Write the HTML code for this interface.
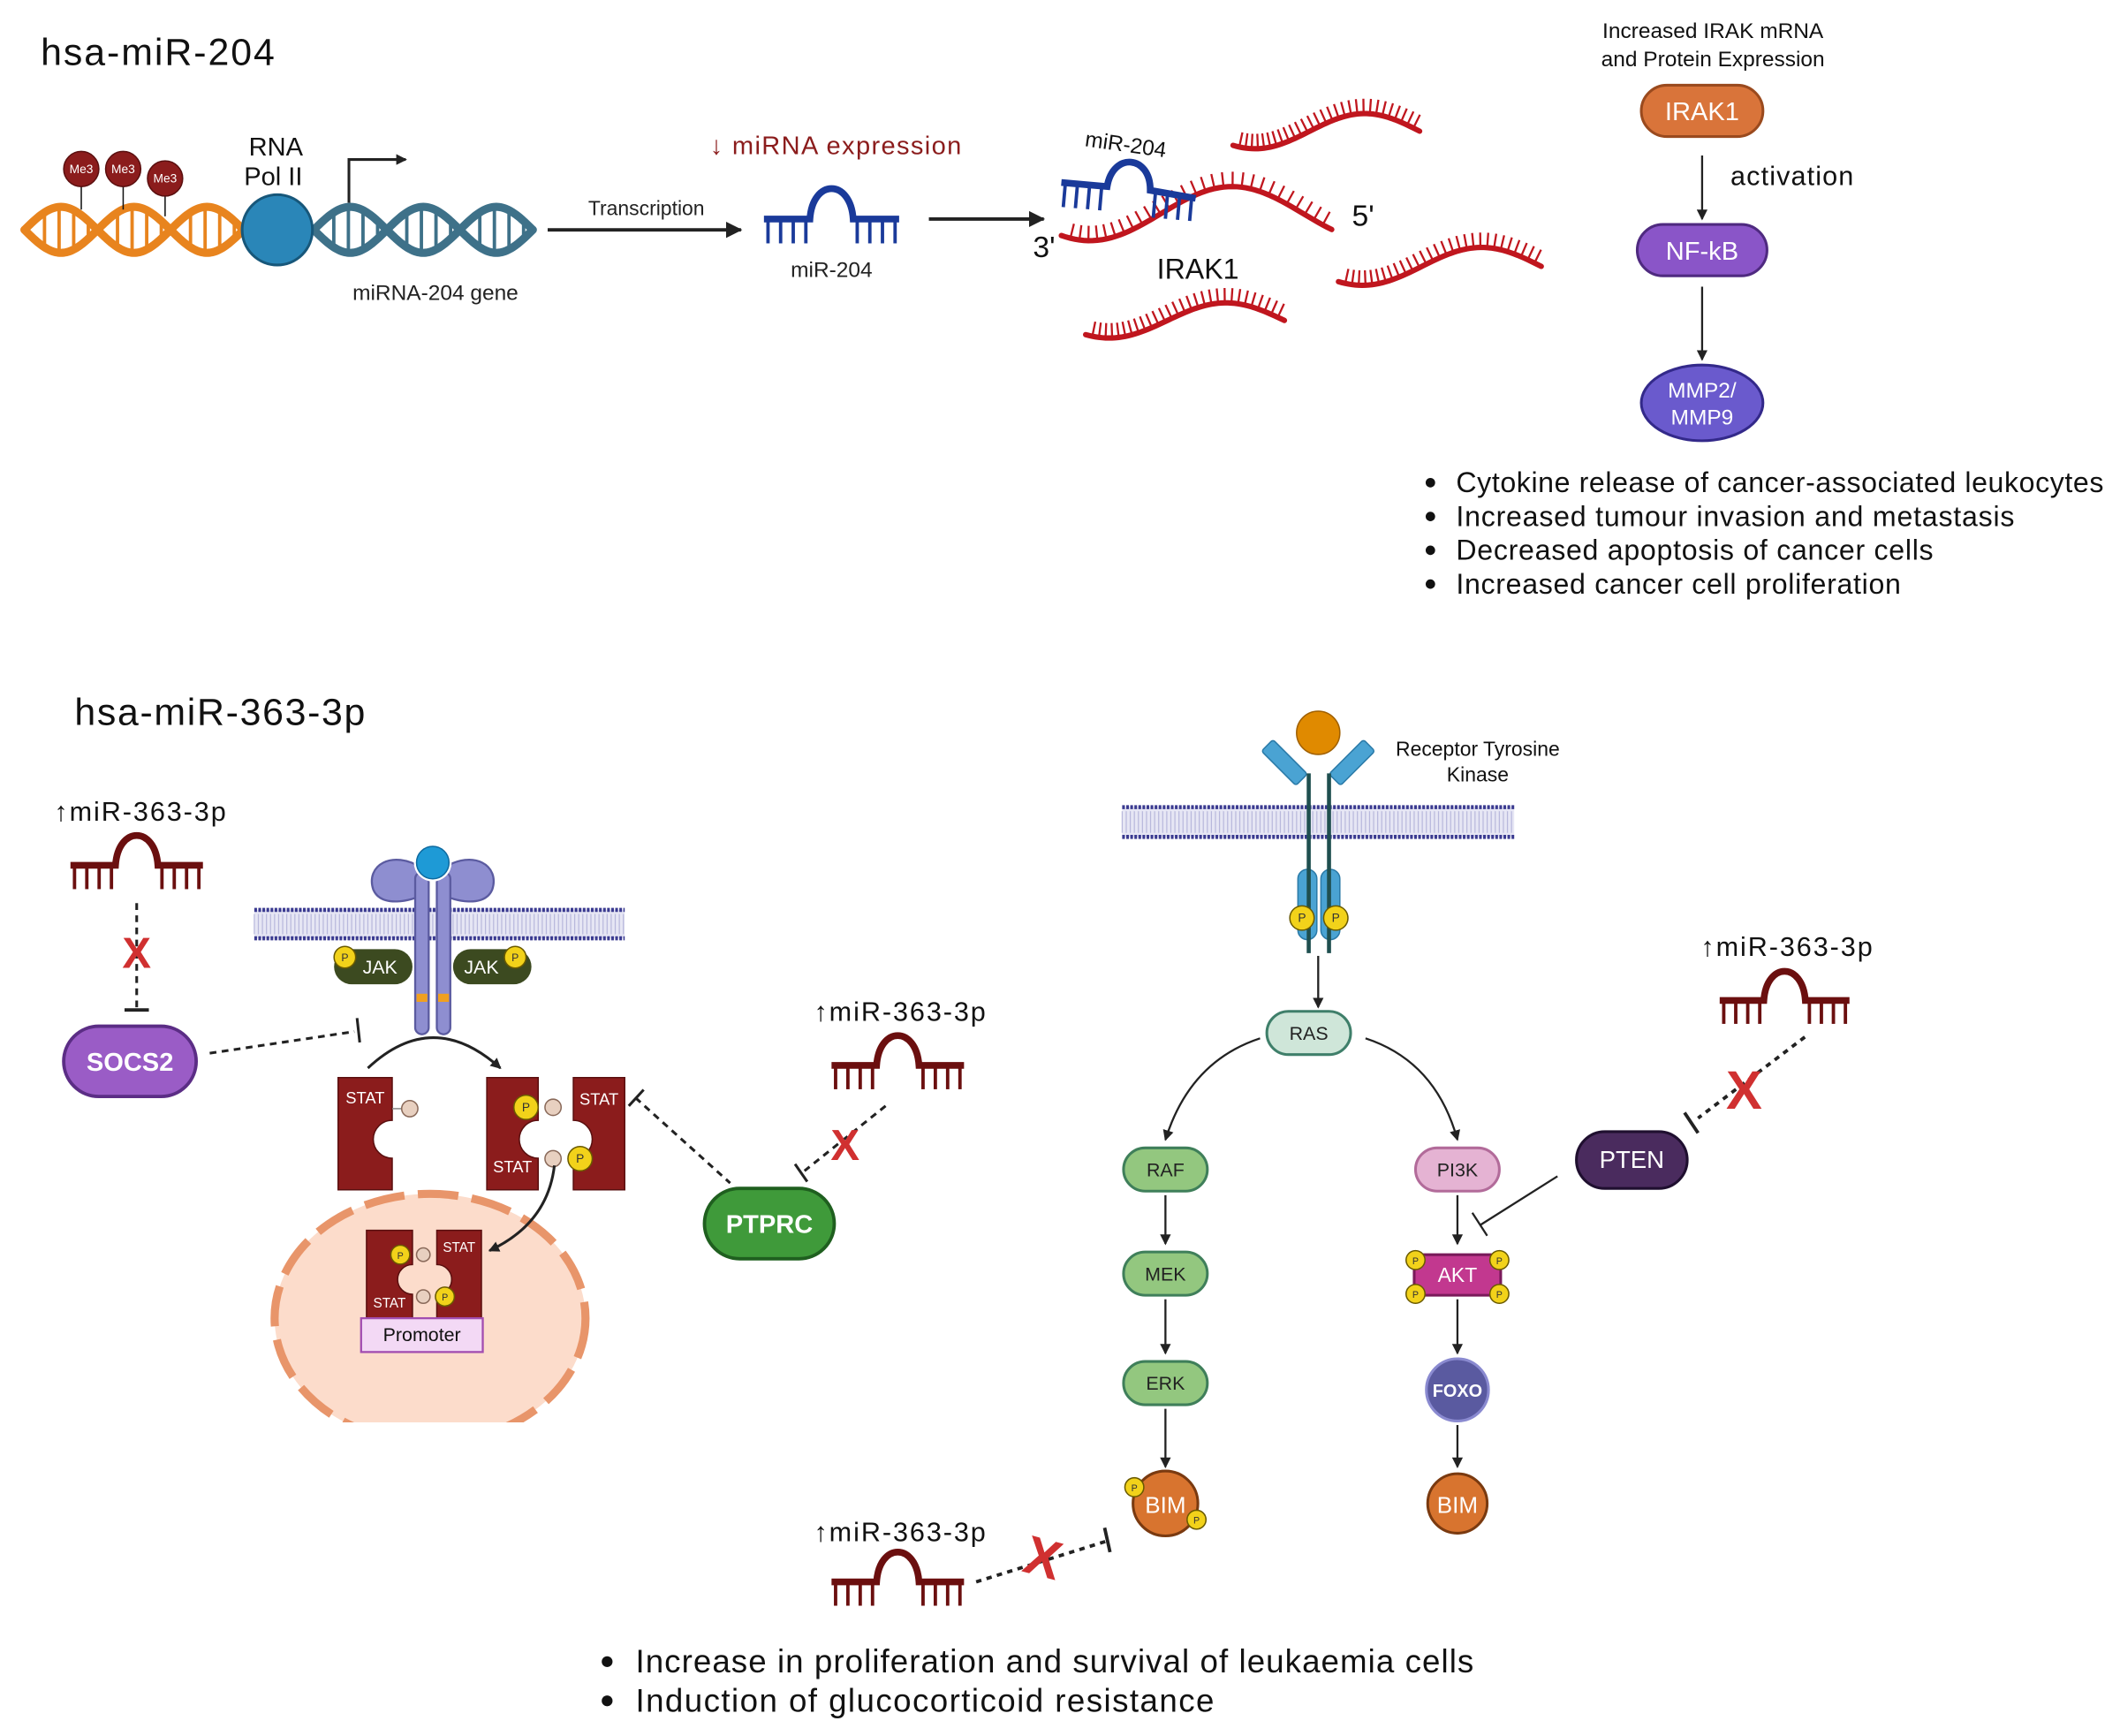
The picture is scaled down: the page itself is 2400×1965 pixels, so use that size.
<!DOCTYPE html>
<html><head><meta charset="utf-8"><style>
html,body{margin:0;padding:0;background:#fff;}
svg{display:block;font-family:"Liberation Sans",sans-serif;}
</style></head><body>
<svg id="s" width="2400" height="1965" viewBox="0 0 1568 1284" xmlns="http://www.w3.org/2000/svg">
<defs>
<marker id="ah" markerWidth="8" markerHeight="8" refX="7" refY="4" orient="auto" markerUnits="userSpaceOnUse"><path d="M0,0 L8,4 L0,8 z" fill="#222"/></marker>
<marker id="ah2" markerWidth="12" markerHeight="12" refX="11" refY="6" orient="auto" markerUnits="userSpaceOnUse"><path d="M0,0 L12,6 L0,12 z" fill="#222"/></marker>
<clipPath id="nuc"><rect x="150" y="860" width="350" height="192"/></clipPath>
</defs>
<g id="gen"></g>

<!-- TOP SECTION -->
<text x="30" y="48" font-size="28" fill="#111" textLength="173">hsa-miR-204</text>
<g fill="#8b1c1c" stroke="#5a0f0f" stroke-width="1">
<line x1="60" y1="138" x2="60" y2="155" stroke="#111"/><line x1="91" y1="138" x2="91" y2="155" stroke="#111"/><line x1="122" y1="145" x2="122" y2="160" stroke="#111"/>
<circle cx="60" cy="125" r="13"/><circle cx="91" cy="125" r="13"/><circle cx="122" cy="132" r="13"/>
</g>
<g font-size="9" fill="#fff" text-anchor="middle"><text x="60" y="128">Me3</text><text x="91" y="128">Me3</text><text x="122" y="135">Me3</text></g>
<text x="204" y="115" font-size="19" text-anchor="middle" fill="#111">RNA</text>
<text x="202" y="137" font-size="19" text-anchor="middle" fill="#111">Pol II</text>
<path d="M258,150 L258,118 L300,118" fill="none" stroke="#222" stroke-width="2" marker-end="url(#ah)"/>
<text x="322" y="222" font-size="16" text-anchor="middle" fill="#222">miRNA-204 gene</text>
<line x1="405" y1="170" x2="548" y2="170" stroke="#222" stroke-width="2.5" marker-end="url(#ah2)"/>
<text x="478" y="159" font-size="15" text-anchor="middle" fill="#222">Transcription</text>
<text x="618" y="114" font-size="19" text-anchor="middle" fill="#8b1c1c" textLength="186">↓ miRNA expression</text>
<text x="615" y="205" font-size="16" text-anchor="middle" fill="#222">miR-204</text>
<line x1="687" y1="162" x2="772" y2="162" stroke="#222" stroke-width="2.5" marker-end="url(#ah2)"/>
<text x="764" y="190" font-size="22" fill="#111">3'</text>
<text x="1000" y="167" font-size="22" fill="#111">5'</text>
<text x="886" y="206" font-size="21" text-anchor="middle" fill="#111">IRAK1</text>
<text x="802" y="108" font-size="16" fill="#111" transform="rotate(8 802 108)">miR-204</text>

<text x="1267" y="28" font-size="16" text-anchor="middle" fill="#111">Increased IRAK mRNA</text>
<text x="1267" y="49" font-size="16" text-anchor="middle" fill="#111">and Protein Expression</text>
<rect x="1214" y="63" width="90" height="38" rx="19" fill="#d9743a" stroke="#9a4a1e" stroke-width="2"/>
<text x="1259" y="89" font-size="19" text-anchor="middle" fill="#fff">IRAK1</text>
<line x1="1259" y1="115" x2="1259" y2="162" stroke="#222" stroke-width="1.5" marker-end="url(#ah)"/>
<text x="1280" y="137" font-size="20" fill="#111" textLength="91">activation</text>
<rect x="1211" y="166" width="96" height="38" rx="19" fill="#8a55c8" stroke="#4f2a80" stroke-width="2"/>
<text x="1259" y="192" font-size="19" text-anchor="middle" fill="#fff">NF-kB</text>
<line x1="1259" y1="212" x2="1259" y2="266" stroke="#222" stroke-width="1.5" marker-end="url(#ah)"/>
<ellipse cx="1259" cy="298" rx="45" ry="28" fill="#6a5acd" stroke="#33298a" stroke-width="2"/>
<text x="1259" y="294" font-size="16" text-anchor="middle" fill="#fff">MMP2/</text>
<text x="1259" y="314" font-size="16" text-anchor="middle" fill="#fff">MMP9</text>
<g font-size="21" fill="#111">
<text x="1077" y="364" textLength="479">Cytokine release of cancer-associated leukocytes</text>
<text x="1077" y="389" textLength="413">Increased tumour invasion and metastasis</text>
<text x="1077" y="414" textLength="353">Decreased apoptosis of cancer cells</text>
<text x="1077" y="439" textLength="329">Increased cancer cell proliferation</text>
</g>
<g fill="#111"><circle cx="1058" cy="357" r="3.5"/><circle cx="1058" cy="382" r="3.5"/><circle cx="1058" cy="407" r="3.5"/><circle cx="1058" cy="432" r="3.5"/></g>

<!-- BOTTOM LEFT -->
<text x="55" y="536" font-size="28" fill="#111" textLength="215">hsa-miR-363-3p</text>
<text x="40" y="607" font-size="20" fill="#111" textLength="127">↑miR-363-3p</text>
<line x1="101" y1="668" x2="101" y2="745" stroke="#222" stroke-width="2" stroke-dasharray="5,4"/>
<line x1="92" y1="747" x2="110" y2="747" stroke="#222" stroke-width="2.5"/>
<text x="101" y="716" font-size="32" font-weight="bold" text-anchor="middle" fill="#d03030">X</text>
<rect x="47" y="759" width="98" height="52" rx="26" fill="#9a5cc6" stroke="#5b2d85" stroke-width="2.5"/>
<text x="96" y="792" font-size="19" font-weight="bold" text-anchor="middle" fill="#fff">SOCS2</text>
<line x1="155" y1="779" x2="262" y2="763" stroke="#222" stroke-width="2" stroke-dasharray="5,4"/>
<line x1="264" y1="753" x2="266" y2="771" stroke="#222" stroke-width="2"/>

<g id="mem1"></g>
<g fill="#8e8ed0" stroke="#5b5ba0" stroke-width="1.5">
<path d="M312,642 C290,628 270,640 276,658 C282,672 305,666 312,662 Z"/>
<path d="M328,642 C350,628 370,640 364,658 C358,672 335,666 328,662 Z"/>
<rect x="307" y="645" width="10" height="120" rx="5"/>
<rect x="323" y="645" width="10" height="120" rx="5"/>
</g>
<rect x="308" y="735" width="8" height="6" fill="#f0a020"/><rect x="324" y="735" width="8" height="6" fill="#f0a020"/>
<circle cx="320" cy="638" r="14" fill="#fff"/><circle cx="320" cy="638" r="12" fill="#1e9ad6" stroke="#0e6aa0"/>
<rect x="247" y="702" width="58" height="26" rx="13" fill="#3c4a20"/>
<rect x="335" y="702" width="58" height="26" rx="13" fill="#3c4a20"/>
<text x="281" y="720" font-size="14" text-anchor="middle" fill="#fff">JAK</text>
<text x="356" y="720" font-size="14" text-anchor="middle" fill="#fff">JAK</text>
<g fill="#f2d21a" stroke="#6a5a00"><circle cx="255" cy="708" r="8"/><circle cx="381" cy="708" r="8"/></g>
<g font-size="8" fill="#333" text-anchor="middle"><text x="255" y="711">P</text><text x="381" y="711">P</text></g>
<path d="M272,790 Q320,745 370,790" fill="none" stroke="#222" stroke-width="2" marker-end="url(#ah)"/>

<g clip-path="url(#nuc)"><ellipse cx="318" cy="975" rx="115" ry="92" fill="#fcdccb" stroke="#e8956a" stroke-width="6" stroke-dasharray="30,10"/></g>

<g id="stats"></g>
<path d="M410,862 Q405,905 362,925" fill="none" stroke="#222" stroke-width="2" marker-end="url(#ah)"/>
<rect x="267" y="975" width="90" height="25" fill="#f3d9f5" stroke="#a24db0" stroke-width="1.5"/>
<text x="312" y="992" font-size="14" text-anchor="middle" fill="#111">Promoter</text>

<line x1="470" y1="812" x2="540" y2="875" stroke="#222" stroke-width="2" stroke-dasharray="5,4"/>
<line x1="465" y1="818" x2="476" y2="806" stroke="#222" stroke-width="2"/>
<rect x="521" y="879" width="96" height="52" rx="26" fill="#3f9a3a" stroke="#1f5f1f" stroke-width="2.5"/>
<text x="569" y="912" font-size="19" font-weight="bold" text-anchor="middle" fill="#fff">PTPRC</text>
<text x="602" y="755" font-size="20" fill="#111" textLength="127">↑miR-363-3p</text>
<line x1="655" y1="818" x2="595" y2="866" stroke="#222" stroke-width="2" stroke-dasharray="5,4"/>
<line x1="588" y1="861" x2="597" y2="874" stroke="#222" stroke-width="2"/>
<text x="625" y="858" font-size="32" font-weight="bold" text-anchor="middle" fill="#d03030">X</text>

<!-- BOTTOM RIGHT -->
<g id="mem2"></g>
<g fill="#4aa3d3" stroke="#2a7aa8">
<rect x="944" y="546" width="12" height="36" rx="2" transform="rotate(-45 950 564)"/>
<rect x="994" y="546" width="12" height="36" rx="2" transform="rotate(45 1000 564)"/>
<rect x="960" y="643" width="14" height="52" rx="7"/><rect x="977" y="643" width="14" height="52" rx="7"/>
</g>
<line x1="968" y1="572" x2="968" y2="705" stroke="#1f4f4f" stroke-width="3"/>
<line x1="983" y1="572" x2="983" y2="705" stroke="#1f4f4f" stroke-width="3"/>
<circle cx="975" cy="542" r="16" fill="#e08a00" stroke="#a06000"/>
<g fill="#f2d21a" stroke="#6a5a00"><circle cx="963" cy="679" r="9"/><circle cx="988" cy="679" r="9"/></g>
<g font-size="9" fill="#333" text-anchor="middle"><text x="963" y="682">P</text><text x="988" y="682">P</text></g>
<text x="1093" y="559" font-size="15" text-anchor="middle" fill="#111">Receptor Tyrosine</text>
<text x="1093" y="578" font-size="15" text-anchor="middle" fill="#111">Kinase</text>
<line x1="975" y1="707" x2="975" y2="745" stroke="#222" stroke-width="1.5" marker-end="url(#ah)"/>
<rect x="937" y="748" width="62" height="32" rx="16" fill="#cfe6d9" stroke="#3f7f6a" stroke-width="2"/>
<text x="968" y="769" font-size="14" text-anchor="middle" fill="#222">RAS</text>
<path d="M932,768 Q880,785 862,843" fill="none" stroke="#222" stroke-width="1.5" marker-end="url(#ah)"/>
<path d="M1010,768 Q1062,785 1078,843" fill="none" stroke="#222" stroke-width="1.5" marker-end="url(#ah)"/>
<g fill="#93c77f" stroke="#3f7f5a" stroke-width="2">
<rect x="831" y="849" width="62" height="32" rx="16"/><rect x="831" y="926" width="62" height="32" rx="16"/><rect x="831" y="1007" width="62" height="32" rx="16"/>
</g>
<g font-size="14" text-anchor="middle" fill="#222"><text x="862" y="870">RAF</text><text x="862" y="947">MEK</text><text x="862" y="1028">ERK</text></g>
<g stroke="#222" stroke-width="1.5" marker-end="url(#ah)">
<line x1="862" y1="884" x2="862" y2="920"/><line x1="862" y1="961" x2="862" y2="1001"/><line x1="862" y1="1042" x2="862" y2="1085"/>
<line x1="1078" y1="884" x2="1078" y2="920"/><line x1="1078" y1="961" x2="1078" y2="1001"/><line x1="1078" y1="1054" x2="1078" y2="1085"/>
</g>
<circle cx="862" cy="1112" r="24" fill="#d8742f" stroke="#7a3a10" stroke-width="2"/>
<text x="862" y="1119" font-size="17" text-anchor="middle" fill="#fff">BIM</text>
<g fill="#f2d21a" stroke="#6a5a00"><circle cx="839" cy="1100" r="7"/><circle cx="885" cy="1124" r="7"/></g>
<g font-size="7" fill="#333" text-anchor="middle"><text x="839" y="1103">P</text><text x="885" y="1127">P</text></g>
<rect x="1047" y="849" width="62" height="32" rx="16" fill="#e5b3d3" stroke="#b26b9a" stroke-width="2"/>
<text x="1078" y="870" font-size="14" text-anchor="middle" fill="#222">PI3K</text>
<rect x="1046" y="928" width="64" height="30" rx="6" fill="#c2388f" stroke="#7a1a5a" stroke-width="2"/>
<text x="1078" y="948" font-size="15" text-anchor="middle" fill="#fff">AKT</text>
<g fill="#f2d21a" stroke="#6a5a00"><circle cx="1047" cy="932" r="7"/><circle cx="1109" cy="932" r="7"/><circle cx="1047" cy="957" r="7"/><circle cx="1109" cy="957" r="7"/></g>
<g font-size="7" fill="#333" text-anchor="middle"><text x="1047" y="935">P</text><text x="1109" y="935">P</text><text x="1047" y="960">P</text><text x="1109" y="960">P</text></g>
<circle cx="1078" cy="1028" r="23" fill="#5a5aa0" stroke="#8a8ad0" stroke-width="2"/>
<text x="1078" y="1033" font-size="13" font-weight="bold" text-anchor="middle" fill="#fff">FOXO</text>
<circle cx="1078" cy="1112" r="22" fill="#d8742f" stroke="#7a3a10" stroke-width="2"/>
<text x="1078" y="1119" font-size="17" text-anchor="middle" fill="#fff">BIM</text>
<rect x="1166" y="837" width="82" height="42" rx="21" fill="#4a2b5e" stroke="#1f0f2f" stroke-width="2"/>
<text x="1207" y="864" font-size="18" text-anchor="middle" fill="#fff">PTEN</text>
<line x1="1152" y1="870" x2="1095" y2="906" stroke="#222" stroke-width="1.5"/>
<line x1="1089" y1="897" x2="1100" y2="914" stroke="#222" stroke-width="1.5"/>
<text x="1258" y="707" font-size="20" fill="#111" textLength="127">↑miR-363-3p</text>
<line x1="1335" y1="767" x2="1256" y2="827" stroke="#222" stroke-width="2.5" stroke-dasharray="4,4"/>
<line x1="1246" y1="823" x2="1256" y2="838" stroke="#222" stroke-width="2.5"/>
<text x="1290" y="820" font-size="40" font-weight="bold" text-anchor="middle" fill="#d03030">X</text>

<text x="602" y="1140" font-size="20" fill="#111" textLength="127">↑miR-363-3p</text>
<line x1="722" y1="1170" x2="818" y2="1140" stroke="#222" stroke-width="2.5" stroke-dasharray="4,4"/>
<line x1="817" y1="1130" x2="821" y2="1148" stroke="#222" stroke-width="2.5"/>
<text x="772" y="1166" font-size="40" font-weight="bold" text-anchor="middle" fill="#d03030" transform="rotate(15 772 1150)">X</text>

<g font-size="24" fill="#111"><text x="470" y="1237" textLength="620">Increase in proliferation and survival of leukaemia cells</text><text x="470" y="1266" textLength="428">Induction of glucocorticoid resistance</text></g>
<g fill="#111"><circle cx="449" cy="1229" r="4"/><circle cx="449" cy="1258" r="4"/></g>
</svg>
<script>
(function(){
var NS="http://www.w3.org/2000/svg", g=document.getElementById('gen');
function el(t,a,p){var e=document.createElementNS(NS,t);for(var k in a)e.setAttribute(k,a[k]);(p||g).appendChild(e);return e;}
function helix(x0,x1,yc,A,P,col){
  var d1="",d2="";
  for(var x=x0;x<=x1;x+=1){var s=Math.sin(2*Math.PI*(x-x0)/P);d1+=(x==x0?"M":"L")+x+","+(yc+A*s);d2+=(x==x0?"M":"L")+x+","+(yc-A*s);}
  for(var x=x0+4;x<x1;x+=P/10){var s=Math.sin(2*Math.PI*(x-x0)/P);if(Math.abs(s)>0.3)el('line',{x1:x,y1:yc+A*s,x2:x,y2:yc-A*s,stroke:col,'stroke-width':2.5});}
  el('path',{d:d1,fill:'none',stroke:col,'stroke-width':6,'stroke-linecap':'round'});
  el('path',{d:d2,fill:'none',stroke:col,'stroke-width':6,'stroke-linecap':'round'});
}
helix(18,180,170,17,108,'#e8841e');
helix(232,394,170,17,108,'#3e7189');
el('circle',{cx:205,cy:170,r:26,fill:'#2a86b8',stroke:'#17577a','stroke-width':2});
function small(x0,x1,yc,A,P,col,w){
  var d1="",d2="";
  for(var x=x0;x<=x1;x+=1){var s=Math.sin(2*Math.PI*(x-x0)/P);d1+=(x==x0?"M":"L")+x+","+(yc+A*s);d2+=(x==x0?"M":"L")+x+","+(yc-A*s);}
  el('path',{d:d1,fill:'none',stroke:col,'stroke-width':w});el('path',{d:d2,fill:'none',stroke:col,'stroke-width':w});
}
small(222,265,988,7,26,'#1a3a9a',3);small(360,403,988,7,26,'#1a3a9a',3);
function mirna(x,y,w,col,sw){
  var h=w*0.3,a=w*0.34,b=w*0.66;
  el('path',{d:"M"+x+","+y+" L"+(x+a)+","+y+" C"+(x+a+2)+","+(y-h)+" "+(x+b-2)+","+(y-h)+" "+(x+b)+","+y+" L"+(x+w)+","+y,fill:'none',stroke:col,'stroke-width':sw});
  for(var i=0;i<4;i++){var xx=x+3+i*(a-6)/3;el('line',{x1:xx,y1:y,x2:xx,y2:y+w*0.18,stroke:col,'stroke-width':2.5});}
  for(var i=0;i<4;i++){var xx=x+b+3+i*(w-b-6)/3;el('line',{x1:xx,y1:y,x2:xx,y2:y+w*0.18,stroke:col,'stroke-width':2.5});}
}
mirna(565,162,100,'#1a3a9a',5);
mirna(52,640,98,'#6b0f0f',5);
mirna(615,788,98,'#6b0f0f',5);
mirna(1272,740,96,'#6b0f0f',5);
mirna(615,1170,98,'#6b0f0f',5);
function wave(x0,x1,yc,A,p0,p1,col){
  var d="",N=60;
  for(var i=0;i<=N;i++){var t=i/N,x=x0+(x1-x0)*t,ph=p0+(p1-p0)*t,y=yc+A*Math.sin(ph);d+=(i?"L":"M")+x+","+y;
    if(i%2==0&&i>0&&i<N){var dy=A*Math.cos(ph)*(p1-p0)/(x1-x0),nx=dy,ny=-1,L=Math.sqrt(nx*nx+1);nx/=L;ny/=L;
      el('line',{x1:x,y1:y,x2:x+nx*11,y2:y+ny*11,stroke:col,'stroke-width':1.5});}}
  el('path',{d:d,fill:'none',stroke:col,'stroke-width':4,'stroke-linecap':'round'});
}
wave(785,985,158,20,0.3*Math.PI,2.2*Math.PI,'#c0161e');
wave(912,1050,97,13,0.3*Math.PI,2.0*Math.PI,'#c0161e');
wave(990,1140,197,14,0.3*Math.PI,2.0*Math.PI,'#c0161e');
wave(803,950,237,13,0.3*Math.PI,2.0*Math.PI,'#c0161e');
(function(){var m=document.createElementNS(NS,'g');m.setAttribute('transform','translate(785,135) rotate(5)');g.appendChild(m);
 var col='#1a3a9a';
 el('path',{d:"M0,0 L34,0 C36,-26 64,-26 66,0 L100,3",fill:'none',stroke:col,'stroke-width':5},m);
 for(var i=0;i<4;i++)el('line',{x1:3+i*9,y1:0,x2:3+i*9,y2:18,stroke:col,'stroke-width':2.5},m);
 for(var i=0;i<4;i++)el('line',{x1:70+i*9,y1:1,x2:70+i*9,y2:20,stroke:col,'stroke-width':2.5},m);
})();
function membrane(x0,x1,y0,y1,id){
  var p=document.getElementById(id);
  el('rect',{x:x0,y:y0,width:x1-x0,height:y1-y0,fill:'#e6e6f4'},p);
  for(var x=x0;x<x1;x+=3){el('line',{x1:x,y1:y0+3,x2:x,y2:y1-3,stroke:'#b8b8dc','stroke-width':0.8},p);}
  el('line',{x1:x0,y1:y0,x2:x1,y2:y0,stroke:'#3a3a90','stroke-width':3,'stroke-dasharray':'2,1'},p);
  el('line',{x1:x0,y1:y1,x2:x1,y2:y1,stroke:'#3a3a90','stroke-width':3,'stroke-dasharray':'2,1'},p);
}
membrane(188,462,673,694,'mem1');
membrane(830,1120,597,619,'mem2');
var st=document.getElementById('stats');
function stat(x,y,w,h,notch,flip,lbl,ly,fs){
  var gg=document.createElementNS(NS,'g');st.appendChild(gg);
  var r=notch,d;
  if(!flip) d="M"+x+","+y+" L"+(x+w)+","+y+" L"+(x+w)+","+(y+h*0.55-r)+" A"+r+","+r+" 0 0 0 "+(x+w)+","+(y+h*0.55+r)+" L"+(x+w)+","+(y+h)+" L"+x+","+(y+h)+" Z";
  else d="M"+x+","+y+" L"+(x+w)+","+y+" L"+(x+w)+","+(y+h)+" L"+x+","+(y+h)+" L"+x+","+(y+h*0.55+r)+" A"+r+","+r+" 0 0 0 "+x+","+(y+h*0.55-r)+" Z";
  el('path',{d:d,fill:'#8b1c1c',stroke:'#5a0f0f','stroke-width':1},gg);
  el('text',{x:x+w/2,y:ly,'font-size':fs,'text-anchor':'middle',fill:'#fff'},gg).textContent=lbl;
}
stat(250,797,40,83,14,false,'STAT',816,12);
el('line',{x1:290,y1:820,x2:297,y2:820,stroke:'#888'},st);el('circle',{cx:303,cy:820,r:6,fill:'#e8d0c0',stroke:'#8a6a5a'},st);
stat(360,797,38,83,14,false,'STAT',867,12);
stat(424,797,38,83,14,true,'STAT',817,12);
stat(271,910,34,66,11,false,'STAT',967,10);
stat(323,910,33,66,11,true,'STAT',926,10);
function py(cx,cy,r){el('circle',{cx:cx,cy:cy,r:r,fill:'#f2d21a',stroke:'#6a5a00'},st);el('text',{x:cx,y:cy+3,'font-size':r,'text-anchor':'middle',fill:'#333'},st).textContent='P';}
function yy(cx,cy,r){el('circle',{cx:cx,cy:cy,r:r,fill:'#e8d0c0',stroke:'#8a6a5a'},st);}
py(389,819,9);yy(409,819,6);py(429,857,9);yy(409,857,6);
py(296,928,7);yy(313,928,5);py(329,959,7);yy(313,959,5);
})();
</script>
</body></html>
